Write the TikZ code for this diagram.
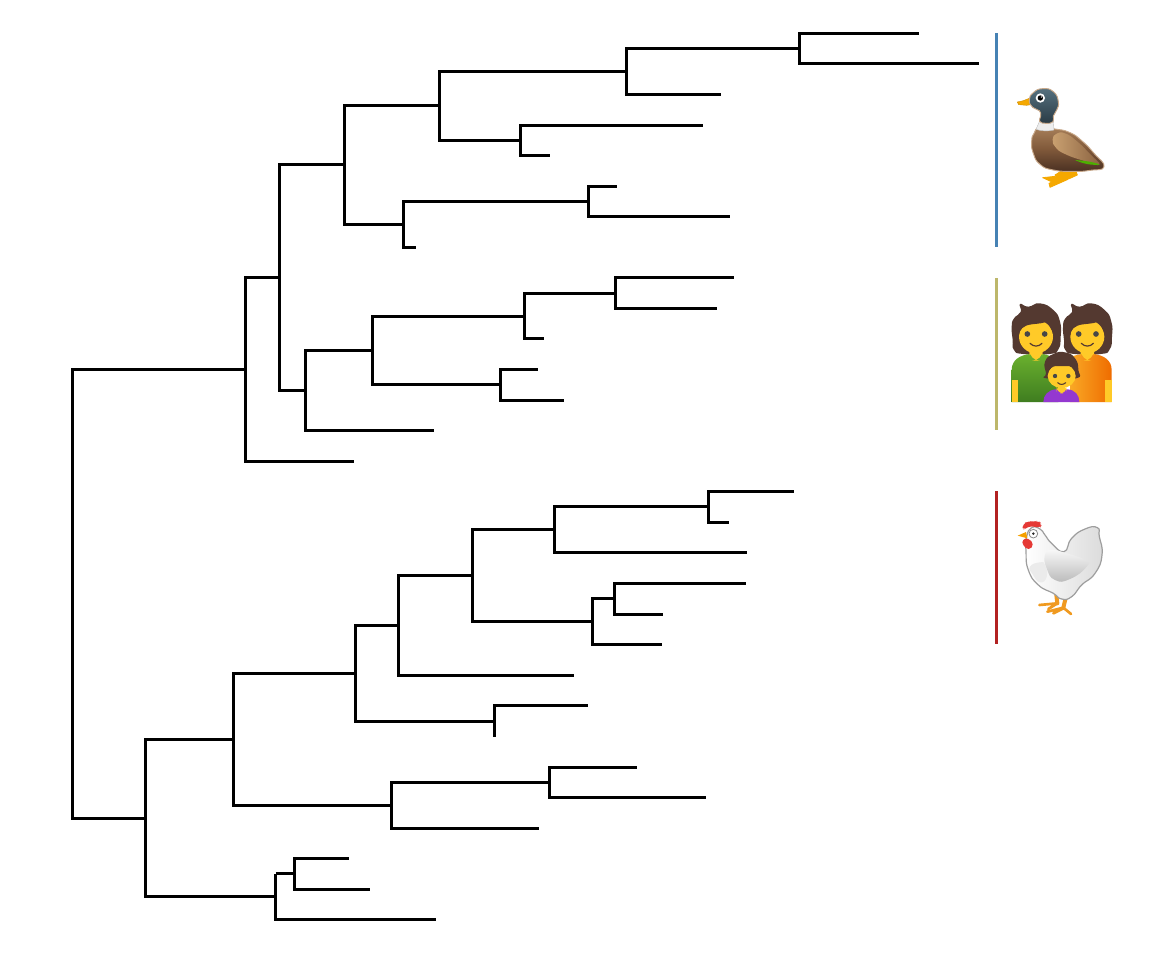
\documentclass[tikz,border=0pt]{standalone}
\definecolor{duckblue}{HTML}{4682B4}
\definecolor{peoplekhaki}{HTML}{BDB76B}
\definecolor{chickred}{HTML}{B22222}
\definecolor{skin}{HTML}{FFCA28}
\definecolor{hair}{HTML}{543930}
\definecolor{orng}{HTML}{F5A800}
\definecolor{tanline}{HTML}{C9A98A}
\definecolor{bodytop}{HTML}{A8805A}
\definecolor{bodymid}{HTML}{80593A}
\definecolor{bodybot}{HTML}{4A3022}
\definecolor{wingl}{HTML}{C9A070}
\definecolor{wingr}{HTML}{8A6240}
\definecolor{headtop}{HTML}{55707E}
\definecolor{headbot}{HTML}{2A3B45}
\definecolor{grntop}{HTML}{6AB02E}
\definecolor{grnbot}{HTML}{3F7D20}
\definecolor{orgl}{HTML}{F9A825}
\definecolor{orgr}{HTML}{EF6C00}
\definecolor{purp}{HTML}{9438D0}
\definecolor{henred}{HTML}{E53935}
\definecolor{henorg}{HTML}{F09A20}
\tikzset{
  branch/.style={line width=2.25pt,black,line join=miter},
  cladebar/.style={line width=2.25pt},
  emoji/.style={x=0.25pt,y=-0.25pt},
}
\newcommand{\blob}[2][]{\path[#1] plot[smooth cycle,tension=0.9] coordinates {#2};}
\newcommand{\adult}{%
\fill[skin,rounded corners=8pt] (118,165) rectangle (158,212);
\fill[skin] (138,140) ellipse[x radius=51,y radius=50];
\path[fill=hair] (86,138) .. controls (88,118) and (100,106) .. (125,103) .. controls (150,100) and (165,100) .. (172,92) .. controls (178,110) and (188,120) .. (191,138) -- (207,100) -- (175,60) -- (110,60) -- (72,100) -- cycle;
\fill[black!72] (112,132) circle[radius=8.5] (164,132) circle[radius=8.5];
\draw[hair,line width=.9pt,line cap=round] (120,160) .. controls (130,171) and (146,171) .. (156,160);
}
\newcommand{\adulthair}{%
\blob[fill=hair]{(65,110)(68,150)(72,180)(100,192)(178,192)(205,178)(212,140)(210,95)(190,60)(150,40)(115,50)(90,42)(92,66)(72,85)}
}
\begin{document}
\begin{tikzpicture}[x=0.75pt,y=-0.75pt]
\useasboundingbox[fill=white] (0,0) rectangle (1152,960);
\begin{scope}[shift={(0.75,0)}]
% internal nodes
\coordinate (stem) at (71,593.5);
\coordinate (root) at (72,593.5);
\coordinate (A) at (245,369);
\coordinate (B) at (279,277);
\coordinate (C) at (344,164.5);
\coordinate (D) at (305,390);
\coordinate (E) at (439,105);
\coordinate (F) at (403,224);
\coordinate (G) at (626,71);
\coordinate (H) at (520,140);
\coordinate (I) at (799,48);
\coordinate (J) at (588,201);
\coordinate (K) at (372,350);
\coordinate (L) at (524,316);
\coordinate (M) at (500,384.5);
\coordinate (N) at (615,293);
\coordinate (O) at (145,818);
\coordinate (P) at (233,739);
\coordinate (Q) at (275,873.5);
\coordinate (Qs) at (275,896);
\coordinate (R) at (355,673);
\coordinate (S) at (391,805);
\coordinate (T) at (398,625);
\coordinate (U) at (494,721);
\coordinate (V) at (472,575);
\coordinate (W) at (554,529);
\coordinate (X) at (592,621);
\coordinate (Y) at (708,506);
\coordinate (Z) at (614,598.5);
\coordinate (AA) at (549,782);
\coordinate (AB) at (294,873.5);
% leaves
\coordinate (l1) at (918,33);
\coordinate (l2) at (978,63);
\coordinate (l3) at (720,94);
\coordinate (l4) at (702,125);
\coordinate (l5) at (549,155);
\coordinate (l6) at (616,186);
\coordinate (l7) at (729,216);
\coordinate (l8) at (415,247);
\coordinate (l9) at (733,277);
\coordinate (l10) at (716,308);
\coordinate (l11) at (543,338);
\coordinate (l12) at (537,369);
\coordinate (l13) at (563,400);
\coordinate (l14) at (433,430);
\coordinate (l15) at (353,461);
\coordinate (l16) at (793,491);
\coordinate (l17) at (728,522);
\coordinate (l18) at (746,552);
\coordinate (l19) at (745,583);
\coordinate (l20) at (662,614);
\coordinate (l21) at (661,644);
\coordinate (l22) at (573,675);
\coordinate (l23) at (587,705);
\coordinate (l24) at (494,736.5);
\coordinate (l25) at (636,767);
\coordinate (l26) at (705,797);
\coordinate (l27) at (538,828);
\coordinate (l28) at (348,858);
\coordinate (l29) at (369,889);
\coordinate (l30) at (435,919);
\end{scope}
% branches
\draw[branch] (stem) -- (root);
\draw[branch] (root) |- (A);
\draw[branch] (root) |- (O);
\foreach \p/\c in {A/B,A/l15,B/C,B/D,C/E,C/F,E/G,E/H,G/I,G/l3,I/l1,I/l2,H/l4,H/l5,
  F/J,F/l8,J/l6,J/l7,D/K,D/l14,K/L,K/M,L/N,L/l11,N/l9,N/l10,M/l12,M/l13,
  O/P,P/R,P/S,R/T,R/U,T/V,T/l22,V/W,V/X,W/Y,W/l18,Y/l16,Y/l17,X/Z,X/l21,Z/l19,Z/l20,
  U/l23,U/l24,S/AA,S/l27,AA/l25,AA/l26,AB/l28,AB/l29}
  {\draw[branch] (\p) |- (\c);}
\draw[branch] (O) |- (Qs) -- (Q);
\draw[branch] (Q) |- (AB);
\draw[branch] (Qs) |- (l30);
% clade bars
\coordinate (b1a) at (996,33); \coordinate (b1b) at (996,247);
\coordinate (b2a) at (996,278); \coordinate (b2b) at (996,430);
\coordinate (b3a) at (996,491); \coordinate (b3b) at (996,644);
\draw[cladebar,duckblue] (b1a) -- (b1b);
\draw[cladebar,peoplekhaki] (b2a) -- (b2b);
\draw[cladebar,chickred] (b3a) -- (b3b);
% duck
\begin{scope}[shift={(990,70)},emoji]
\path[fill=orng,line join=round,draw=orng,line width=.6pt] (195,315) -- (222,298) -- (258,304) -- (262,315) -- (238,326) -- (205,325) -- cycle;
\path[fill=orng,line join=round,draw=orng,line width=.6pt] (158,323) -- (205,318) -- (222,298) -- (240,298) -- (234,328) -- (180,352) -- (177,340) -- (186,336) -- cycle;
\path[fill=orng,line join=round,draw=orng!85!black,line width=.3pt] (120,84) -- (100,92) -- (82,96) -- (86,104) -- (110,106) -- (122,104) -- cycle;
\blob[draw=tanline,line width=.7pt,top color=bodytop,bottom color=bodybot,middle color=bodymid]{(150,172)(132,190)(125,215)(130,250)(150,283)(190,300)(250,304)(300,301)(342,290)(312,250)(275,212)(238,187)(195,177)}
\blob[left color=wingl,right color=wingr,draw=none]{(188,208)(200,191)(225,190)(260,213)(300,252)(328,284)(280,272)(225,252)(197,232)}
\path[fill=green!55!black!70!yellow] (255,270) .. controls (280,272) and (310,275) .. (330,284) .. controls (305,286) and (280,282) .. cycle;
\path[fill=black!7,draw=black!25,line width=.3pt,line join=round] (148,155) .. controls (160,160) and (178,160) .. (190,155) -- (192,180) .. controls (175,184) and (155,184) .. (138,178) -- cycle;
\blob[draw=tanline,line width=.7pt,top color=headtop,bottom color=headbot]{(118,90)(130,68)(158,56)(190,65)(205,95)(200,120)(190,138)(189,155)(168,160)(149,154)(152,138)(148,122)(128,112)}
\fill[white] (151,84) circle[radius=14];
\fill[black] (151,84) circle[radius=8];
\fill[white] (154,81) circle[radius=2];
\end{scope}
% people
\begin{scope}[shift={(990,290)},emoji]
% right person
\begin{scope}[shift={(154,0)}]
\adulthair
\end{scope}
\path[left color=orgl,right color=orgr] (240,336) -- (240,200) -- (275,192) -- (310,192) .. controls (340,195) and (365,210) .. (365,240) -- (365,336) -- cycle;
\fill[skin] (346,270) rectangle (365,336);
\begin{scope}[shift={(154,0)}]
\adult
\end{scope}
% left person
\adulthair
\path[top color=grntop,bottom color=grnbot] (65,336) -- (65,240) .. controls (65,210) and (90,195) .. (120,192) -- (155,192) .. controls (185,195) and (205,210) .. (205,240) -- (205,336) -- cycle;
\fill[skin] (65,270) rectangle (84,336);
\adult
% child
\path[fill=purp] (160,336) .. controls (160,315) and (175,300) .. (197,298) -- (233,298) .. controls (255,300) and (268,315) .. (268,336) -- cycle;
\blob[fill=hair]{(168,250)(165,215)(190,192)(225,187)(255,205)(265,240)(258,265)(170,265)}
\fill[skin,rounded corners=5pt] (200,285) rectangle (230,310);
\fill[skin] (215,258) ellipse[x radius=42,y radius=36];
\path[fill=hair] (172,254) .. controls (178,235) and (185,228) .. (200,228) -- (240,228) .. controls (250,230) and (255,240) .. (258,254) -- (263,225) -- (225,195) -- (180,205) -- (167,225) -- cycle;
\fill[black!72] (195,258) circle[radius=6.5] (235,258) circle[radius=6.5];
\draw[hair,line width=.8pt,line cap=round] (203,278) .. controls (210,285) and (220,285) .. (227,278);
\end{scope}
% chicken
\begin{scope}[shift={(990,505)},emoji]
\draw[henorg,line width=3pt,line cap=round] (198,262) -- (202,295);
\draw[henorg,line width=2pt,line cap=round,line join=round] (148,300) -- (202,295) -- (175,312);
\draw[henorg,line width=3pt,line cap=round] (228,275) -- (220,308);
\draw[henorg,line width=2pt,line cap=round,line join=round] (172,320) -- (220,308) -- (243,327) (190,325) -- (220,310);
\blob[draw=black!38,line width=.9pt,left color=white,right color=black!14]{(108,140)(110,95)(125,68)(150,72)(165,90)(185,115)(222,140)(245,100)(285,72)(322,68)(328,95)(336,150)(315,205)(275,240)(245,275)(215,282)(190,265)(145,240)(115,195)}
\blob[fill=black!8,draw=none]{(120,185)(150,172)(165,180)(170,215)(150,232)(128,208)}
\blob[top color=black!3,bottom color=black!27,draw=none]{(165,150)(185,135)(230,145)(285,165)(290,185)(240,222)(195,225)(170,190)}
\path[fill=henred,rounded corners=3pt] (97,76) -- (98,58) -- (115,47) -- (130,52) -- (145,46) -- (156,58) -- (150,70) -- (125,62) -- (110,68) -- cycle;
\blob[fill=henred,draw=none]{(100,105)(115,102)(128,118)(116,132)(100,120)}
\path[fill=orng!95!red,line join=round] (83,92) -- (108,81) -- (112,100) -- cycle;
\draw[black!45,fill=white,line width=.6pt] (130,86) circle[radius=13];
\fill[black!85] (130,86) circle[radius=4];
\end{scope}
\end{tikzpicture}
\end{document}
